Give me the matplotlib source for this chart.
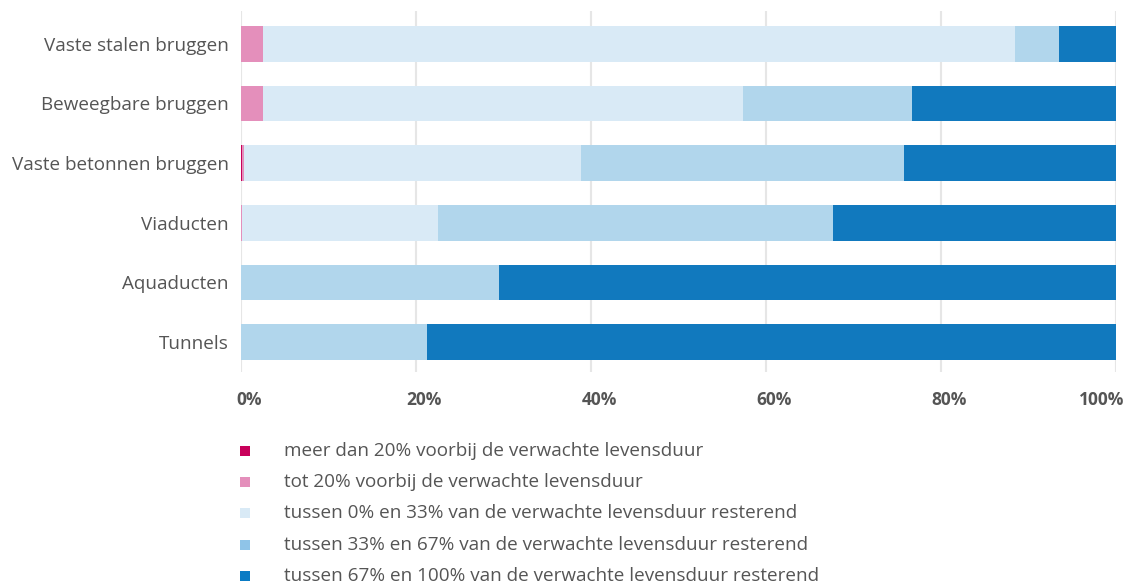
import matplotlib
matplotlib.use("Agg")
import matplotlib.pyplot as plt
import matplotlib.transforms as mtransforms
from matplotlib.patches import Rectangle
import numpy as np

categories = ["Vaste stalen bruggen", "Beweegbare bruggen", "Vaste betonnen bruggen",
              "Viaducten", "Aquaducten", "Tunnels"]
series_labels = [
    "meer dan 20% voorbij de verwachte levensduur",
    "tot 20% voorbij de verwachte levensduur",
    "tussen 0% en 33% van de verwachte levensduur resterend",
    "tussen 33% en 67% van de verwachte levensduur resterend",
    "tussen 67% en 100% van de verwachte levensduur resterend",
]
meer_dan_20 = [0.0, 0.0, 0.1, 0.0, 0.0, 0.0]
tot_20 = [2.5, 2.5, 0.2, 0.1, 0.0, 0.0]
rest_0_33 = [86.0, 54.9, 38.6, 22.4, 0.0, 0.0]
rest_33_67 = [5.0, 19.3, 36.9, 45.2, 29.5, 21.3]
rest_67_100 = [6.5, 23.3, 24.2, 32.3, 70.5, 78.7]
xticks = [0, 20, 40, 60, 80, 100]
xtick_labels = ["0%", "20%", "40%", "60%", "80%", "100%"]

colors = ["#c8005a", "#e48fbb", "#d9eaf6", "#b1d6ec", "#1179be"]
legend_colors = ["#c8005a", "#e48fbb", "#d9eaf6", "#8fc4e8", "#0a7bc4"]

plt.rcParams['font.family'] = ['Open Sans', 'DejaVu Sans']
text_color = "#555555"

fig = plt.figure(figsize=(11.27, 5.84), dpi=100)
ax = fig.add_axes([241/1127, 1-372/584, (1116-241)/1127, (372-11)/584])

y = np.arange(len(categories))
left = np.zeros(len(categories))
for vals, c in zip([meer_dan_20, tot_20, rest_0_33, rest_33_67, rest_67_100], colors):
    v = np.array(vals)
    ax.barh(y, v, left=left, height=0.6, color=c, linewidth=0, zorder=2)
    left += v

ax.set_xlim(0, 100)
ax.set_ylim(5.5, -0.55)
ax.set_yticks(y)
ax.set_yticklabels(categories, fontsize=13.6, color=text_color)
ax.set_xticks(xticks)
ax.set_xticklabels(xtick_labels, fontsize=12.5, color=text_color, fontweight='bold')
ax.tick_params(axis='both', length=0)
ax.tick_params(axis='y', pad=9)
ax.tick_params(axis='x', pad=14)
for s in ax.spines.values():
    s.set_visible(False)
ax.grid(axis='x', color="#e6e6e6", linewidth=1.5, zorder=0)
ax.set_axisbelow(True)

off = mtransforms.ScaledTranslation(8/100, 0, fig.dpi_scale_trans)
labels = ax.get_xticklabels()
for i, lbl in enumerate(labels):
    lbl.set_transform(lbl.get_transform() + off)
    if i == len(labels) - 1:
        lbl.set_ha('right')

legend_y = [451, 482, 513, 545, 576]
for lab, c, ly in zip(series_labels, legend_colors, legend_y):
    fig.patches.append(Rectangle((240/1127, 1-(ly+5)/584), 10/1127, 10/584,
                                 transform=fig.transFigure, color=c, linewidth=0))
    fig.text(284/1127, 1-ly/584, lab, fontsize=13.6, color=text_color, va='center', ha='left')

fig.savefig("out.png", dpi=100)
